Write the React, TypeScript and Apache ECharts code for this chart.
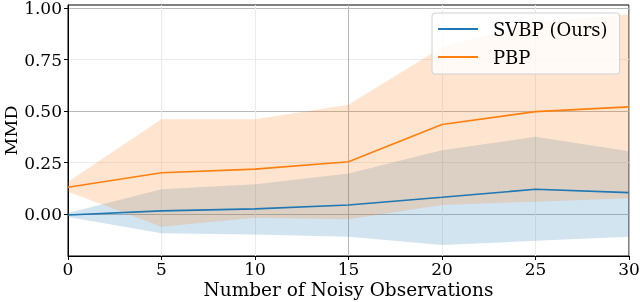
import React, { useEffect, useRef } from "react";
import * as echarts from "echarts";

const xValues = [0, 5, 10, 15, 20, 25, 30];
const svbpMean = [-0.005, 0.015, 0.025, 0.044, 0.081, 0.12, 0.104];
const svbpLower = [-0.015, -0.094, -0.1, -0.11, -0.15, -0.13, -0.11];
const svbpUpper = [0.005, 0.12, 0.144, 0.197, 0.31, 0.375, 0.305];
const pbpMean = [0.13, 0.2, 0.218, 0.254, 0.435, 0.497, 0.52];
const pbpLower = [0.108, -0.062, -0.018, -0.026, 0.044, 0.06, 0.076];
const pbpUpper = [0.157, 0.46, 0.46, 0.53, 0.81, 0.93, 0.97];
const yTicks = [0, 0.25, 0.5, 0.75, 1.0];

const FONT = "'DejaVu Serif', serif";
const BLUE = "#1f77b4";
const ORANGE = "#ff7f0e";

function bandSeries(name: string, lower: number[], upper: number[], color: string) {
  const data = xValues.map((x, i) => [x, lower[i], upper[i]]);
  return {
    type: "custom",
    name: name + " band",
    data,
    encode: { x: 0, y: [1, 2] },
    silent: true,
    renderItem: (params: any, api: any) => {
      if (params.dataIndex !== 0) return null;
      const pts: number[][] = [];
      for (let i = 0; i < xValues.length; i++) pts.push(api.coord([xValues[i], upper[i]]));
      for (let i = xValues.length - 1; i >= 0; i--) pts.push(api.coord([xValues[i], lower[i]]));
      return {
        type: "polygon",
        shape: { points: pts },
        style: { fill: color, opacity: 0.2, stroke: "none" },
      };
    },
  };
}

function lineSeries(name: string, values: number[], color: string) {
  return {
    type: "line",
    name,
    data: xValues.map((x, i) => [x, values[i]]),
    symbol: "none",
    showSymbol: false,
    lineStyle: { color, width: 1.6 },
    itemStyle: { color },
  };
}

export default function App() {
  const ref = useRef<HTMLDivElement>(null);
  useEffect(() => {
    if (!ref.current) return;
    const chart = echarts.init(ref.current, null, { renderer: "svg" });
    chart.setOption({
      animation: false,
      grid: {
        left: 68,
        right: 11,
        top: 5,
        bottom: 46,
        outerBoundsMode: "none",
        containLabel: false,
        show: true,
        borderColor: "#000",
        borderWidth: 1,
        backgroundColor: "transparent",
      },
      xAxis: {
        type: "value",
        min: 0,
        max: 30,
        interval: 5,
        name: "Number of Noisy Observations",
        nameLocation: "middle",
        nameGap: 24,
        nameMoveOverlap: false,
        nameTextStyle: { fontFamily: FONT, fontSize: 18.5, color: "#000" },
        axisLine: { show: true, onZero: false, lineStyle: { color: "#000", width: 1 } },
        axisTick: { show: true, length: 4, lineStyle: { color: "#000" } },
        axisLabel: { fontFamily: FONT, fontSize: 17, color: "#000", margin: 4 },
        splitLine: {
          show: true,
          lineStyle: {
            color: ["#b8b8b8", "#ebebeb", "#ebebeb", "#b8b8b8", "#ebebeb", "#ebebeb", "#b8b8b8"],
            width: 1,
          },
        },
      },
      yAxis: {
        type: "value",
        min: -0.204,
        max: 1.015,
        name: "MMD",
        nameLocation: "middle",
        nameGap: 48,
        nameMoveOverlap: false,
        nameTextStyle: { fontFamily: FONT, fontSize: 17.5, color: "#000" },
        axisLine: { show: true, onZero: false, lineStyle: { color: "#000", width: 1 } },
        axisTick: { show: true, length: 4, lineStyle: { color: "#000" }, customValues: yTicks },
        axisLabel: {
          fontFamily: FONT,
          fontSize: 17,
          lineHeight: 14,
          color: "#000",
          margin: 6,
          customValues: yTicks,
          formatter: (v: number) => v.toFixed(2),
        },
        splitLine: {
          show: true,
          lineStyle: {
            color: ["#b8b8b8", "#ebebeb", "#b8b8b8", "#ebebeb", "#b8b8b8"],
            width: 1,
          },
        },
      },
      legend: {
        data: [
          { name: "SVBP (Ours)", icon: "rect" },
          { name: "PBP", icon: "rect" },
        ],
        orient: "vertical",
        left: 432,
        top: 13,
        itemWidth: 40,
        itemHeight: 2,
        itemGap: 8,
        padding: [6, 12, 7, 6],
        backgroundColor: "rgba(255,255,255,0.8)",
        borderColor: "#d0d0d0",
        borderWidth: 1,
        borderRadius: 3,
        textStyle: {
          fontFamily: FONT,
          fontSize: 18,
          color: "#000",
          lineHeight: 20,
          padding: [0, 0, 0, 10],
        },
      },
      series: [
        lineSeries("SVBP (Ours)", svbpMean, BLUE),
        bandSeries("SVBP", svbpLower, svbpUpper, BLUE),
        lineSeries("PBP", pbpMean, ORANGE),
        bandSeries("PBP", pbpLower, pbpUpper, ORANGE),
      ],
    });
    return () => chart.dispose();
  }, []);
  return (
    <div
      ref={ref}
      style={{ position: "fixed", left: 0, top: 0, width: 640, height: 302 }}
    />
  );
}
